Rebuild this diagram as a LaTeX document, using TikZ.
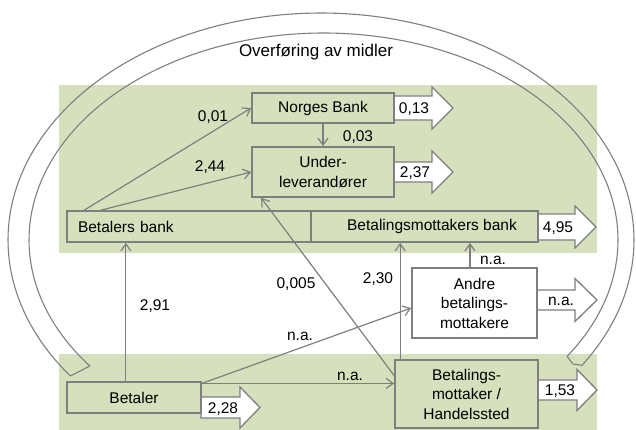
\documentclass[tikz,border=0pt]{standalone}
\usepackage{fontspec}
\setmainfont{Liberation Sans}
\usetikzlibrary{arrows.meta,calc}
\definecolor{grn}{RGB}{214,224,189}
\definecolor{lgray}{RGB}{127,127,127}
\newcommand\blockarr[7]{% x0, xbase, tip, cy, body half, head half
  \draw[blockarrow] (#1,#4-#5) -- (#2,#4-#5) -- (#2,#4-#6) -- (#3,#4) -- (#2,#4+#6) -- (#2,#4+#5) -- (#1,#4+#5) -- cycle;}
\begin{document}
\begin{tikzpicture}[x=1pt,y=-1pt,
  every node/.style={font=\fontsize{15.5}{19.5}\selectfont, text=black},
  box/.style={draw=lgray, line width=1.8pt, fill=grn, inner sep=0pt, align=center},
  whitebox/.style={box, fill=white},
  blockarrow/.style={draw=lgray, line width=1.3pt, fill=white, line join=miter},
  band/.style={draw=lgray, line width=1.1pt, line join=round},
  conn/.style={draw=lgray, line width=1.2pt, -{Straight Barb[length=7pt,width=10pt]}},
  lab/.style={inner sep=0pt}]
\useasboundingbox (0,0) rectangle (636,430);
% green regions
\fill[grn] (59,85) rectangle (597,253);
\fill[grn] (59,354) rectangle (597,430);
% big band
\draw[band] plot[domain=-33.5:216.8,samples=150] ({321+313*cos(\x)},{240-227*sin(\x)})
  -- plot[domain=0:251.7,samples=150] ({323.5+294.5*cos(217.5-\x)},{240-207*sin(217.5-\x)})
  -- (573,364) -- cycle;
\node[lab] (title) at (316,52) {\fontsize{17}{20}\selectfont Overføring av midler};
% block arrows
\blockarr{394}{432}{453}{108}{12}{21}{}
\blockarr{394}{432}{453}{172}{10}{21}{}
\blockarr{538}{575}{596}{227}{13}{21}{}
\blockarr{537}{575}{597}{300}{10}{21.5}{}
\blockarr{538}{577}{597}{390}{10}{20.5}{}
\blockarr{201}{240}{260}{407.5}{10.5}{20.5}{}
\node[lab] (l013) at (414,109) {0,13};
\node[lab] (l237) at (415,173) {2,37};
\node[lab] (l495) at (558,228) {4,95};
\node[lab] (lna3) at (561,301) {n.a.};
\node[lab] (l153) at (560,391) {1,53};
\node[lab] (l228) at (223,409) {2,28};
% boxes
\node[box, minimum width=142pt, minimum height=30pt] (nb) at (323,108) {Norges Bank};
\node[box, minimum width=142pt, minimum height=50pt] (ul) at (323,172) {Under-\\leverandører};
\node[box, minimum width=244pt, minimum height=31pt, text width=222pt, align=left] (bb) at (189,226.5) {Betalers bank};
\node[box, minimum width=227pt, minimum height=31pt] (bmb) at (424.5,226.5) {\hspace*{15pt}Betalingsmottakers bank};
\node[box, minimum width=134pt, minimum height=31pt] (bet) at (134,397.5) {Betaler};
\node[box, minimum width=143pt, minimum height=68pt] (bm) at (466.5,394) {Betalings-\\mottaker /\\Handelssted};
\node[whitebox, minimum width=125pt, minimum height=70pt] (an) at (474.5,303) {Andre\\betalings-\\mottakere};
% connectors
\coordinate (bbA) at ($(bb.north west)!0.074!(bb.north east)$);
\coordinate (bbB) at ($(bb.north west)!0.143!(bb.north east)$);
\draw[conn] (bbA) -- (nb.west);
\draw[conn] (bbB) -- (ul.west);
\draw[conn] (nb.south) -- (ul.north);
\coordinate (betN) at ($(bet.north west)!0.44!(bet.north east)$);
\draw[conn] (betN) -- (betN |- bb.south);
\coordinate (betE) at ($(bet.north east)!0.07!(bet.south east)$);
\draw[conn] (betE) -- (betE -| bm.west);
\draw[conn] (betE) -- ($(an.west)!0.14!(an.south west)$);
\coordinate (bmW) at ($(bm.north west)!0.235!(bm.south west)$);
\draw[conn] (bmW) -- ($(ul.south west)!0.07!(ul.south east)$);
\coordinate (bmN) at ($(bm.north west)!0.042!(bm.north east)$);
\draw[conn] (bmN) -- (bmN |- bmb.south);
\coordinate (anN) at ($(an.north west)!0.464!(an.north east)$);
\draw[conn] (anN) -- (anN |- bmb.south);
% connector labels
\node[lab] (l001) at (213,117) {0,01};
\node[lab] (l244) at (210,167) {2,44};
\node[lab] (l003) at (358,137) {0,03};
\node[lab] (l291) at (155,306) {2,91};
\node[lab] (l0005) at (296,284) {0,005};
\node[lab] (l230) at (378,279) {2,30};
\node[lab] (lna1) at (493,260) {n.a.};
\node[lab] (lna2) at (300,336) {n.a.};
\node[lab] (lna4) at (350,376) {n.a.};
\end{tikzpicture}
\end{document}
